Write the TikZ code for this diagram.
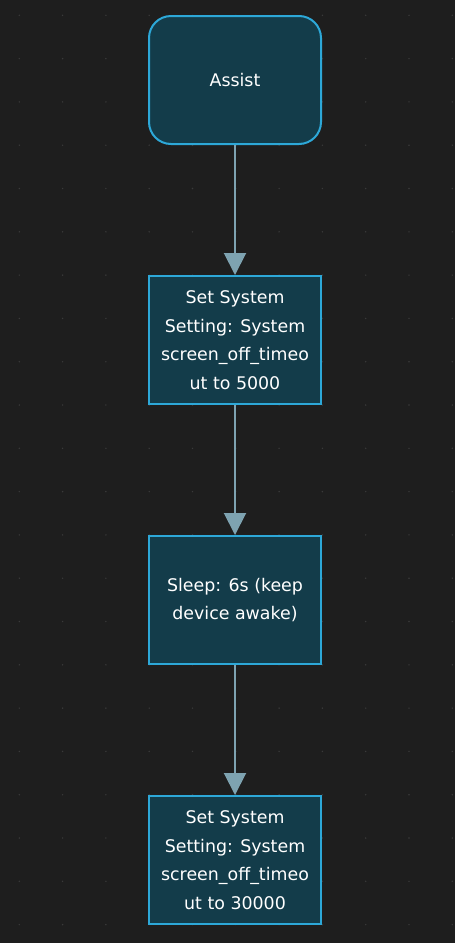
\documentclass[tikz,border=0pt]{standalone}
\usepackage{fontspec}
\setmainfont{DejaVu Sans}
\usepackage{tikz}
\usetikzlibrary{arrows.meta, positioning}
\definecolor{canvasbg}{HTML}{1E1E1E}
\definecolor{gridgray}{HTML}{3A3A3A}
\definecolor{stepfill}{HTML}{133C4A}
\definecolor{stepline}{HTML}{2DA8D8}
\definecolor{flowline}{HTML}{7EA3B1}

\tikzset{
  flowbox/.style={draw=stepline, line width=2pt, fill=stepfill,
    minimum width=172pt, minimum height=128pt, inner sep=0pt,
    align=center, text=white, font=\fontsize{17.4}{28.5}\selectfont},
  startbox/.style={flowbox, rounded corners=22pt},
  flowarrow/.style={draw=flowline, line width=2pt,
    -{Triangle[length=22pt, width=22pt]}}
}

\begin{document}
\begin{tikzpicture}[x=1pt, y=-1pt, node distance=130pt]
    % Canvas
    \fill[canvasbg] (0,0) rectangle (455,943);
    \useasboundingbox (0,0) rectangle (455,943);

    % Dot grid
    \foreach \i in {0,...,10}
      \foreach \j in {0,...,21}
        \fill[gridgray] (19.3+43.3*\i,15.3+43.3*\j) circle (0.8pt);

    % Steps
    \node[startbox] (assist) at (235,80) {Assist};
    \node[flowbox, below=of assist] (setshort)
      {Set System\\Setting: System\\screen\_off\_timeo\\ut to 5000};
    \node[flowbox, below=of setshort] (sleep)
      {Sleep: 6s (keep\\device awake)};
    \node[flowbox, below=of sleep] (setlong)
      {Set System\\Setting: System\\screen\_off\_timeo\\ut to 30000};

    % Connectors
    \draw[flowarrow] (assist) -- (setshort);
    \draw[flowarrow] (setshort) -- (sleep);
    \draw[flowarrow] (sleep) -- (setlong);
  \end{tikzpicture}
\end{document}
